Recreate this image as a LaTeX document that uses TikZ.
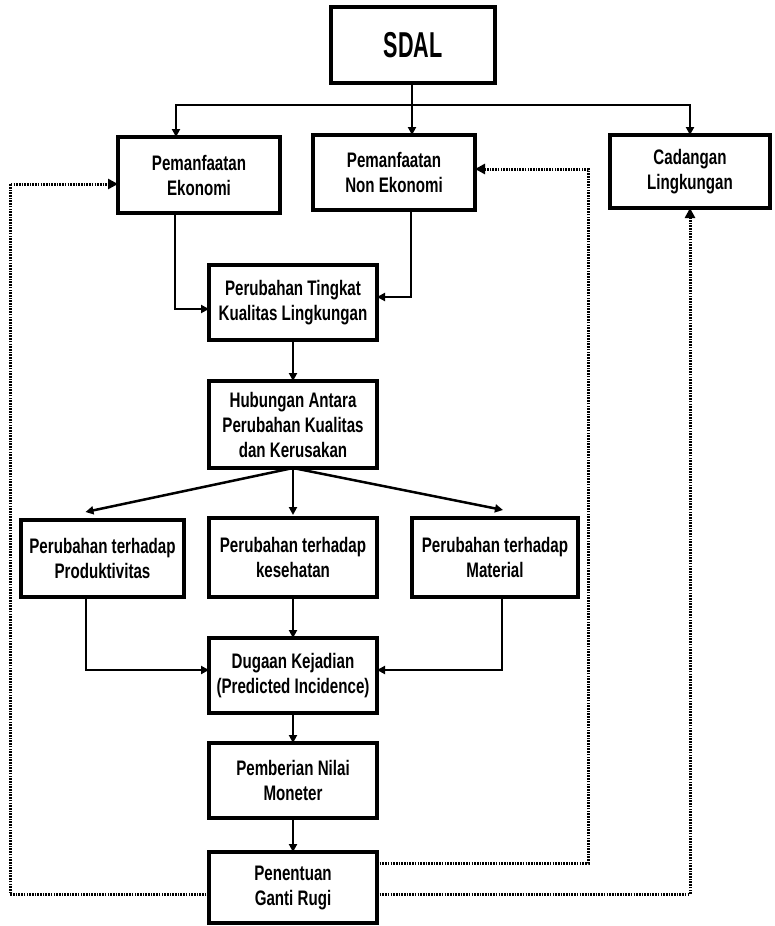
\documentclass[tikz,border=0pt]{standalone}
\usepackage{fontspec}
\setmainfont{Liberation Sans}[FakeStretch=0.72]
\newfontfamily\sdalfont{Liberation Sans}[FakeStretch=0.6]
\usetikzlibrary{arrows.meta}
\begin{document}
\begin{tikzpicture}[x=1pt,y=-1pt,
  box/.style={draw,line width=3.2pt,fill=white,inner sep=0pt,outer sep=0pt,align=center,
    font=\bfseries\fontsize{21}{25}\selectfont},
  arr/.style={line width=2.5pt,-{Triangle[length=8pt,width=8pt]}},
  plain/.style={line width=2.5pt},
  dot/.style={line width=3pt,dash pattern=on 1.6pt off 1.1pt},
  dotarr/.style={dot,-{Triangle[length=10pt,width=10pt]}}]
\useasboundingbox (0,0) rectangle (774,926);
% boxes
\node[box,minimum width=164pt,minimum height=76pt,font=\sdalfont\bfseries\fontsize{36}{40}\selectfont] (sdal) at (413,45) {SDAL};
\node[box,minimum width=162pt,minimum height=76pt] (eko) at (199,175) {Pemanfaatan\\Ekonomi};
\node[box,minimum width=162pt,minimum height=75pt] (noneko) at (394,172.5) {Pemanfaatan\\Non Ekonomi};
\node[box,minimum width=160pt,minimum height=73pt] (cad) at (690,171.5) {Cadangan\\Lingkungan};
\node[box,minimum width=168pt,minimum height=75pt] (ting) at (293,302.5) {Perubahan Tingkat\\Kualitas Lingkungan};
\node[box,minimum width=168pt,minimum height=87pt] (hub) at (293,424.5) {Hubungan Antara\\Perubahan Kualitas\\dan Kerusakan};
\node[box,minimum width=163pt,minimum height=77pt] (prod) at (102.5,558.5) {Perubahan terhadap\\Produktivitas};
\node[box,minimum width=168pt,minimum height=79pt] (kes) at (293,557.5) {Perubahan terhadap\\kesehatan};
\node[box,minimum width=166pt,minimum height=79pt] (mat) at (495,557.5) {Perubahan terhadap\\Material};
\node[box,minimum width=168pt,minimum height=75pt] (dug) at (293,675.5) {Dugaan Kejadian\\(Predicted Incidence)};
\node[box,minimum width=168pt,minimum height=75pt] (pem) at (293,780.5) {Pemberian Nilai\\Moneter};
\node[box,minimum width=168pt,minimum height=71pt] (pen) at (293,887.5) {Penentuan\\Ganti Rugi};
% top distribution
\coordinate (bus) at (412,105);
\draw[plain] (sdal.south -| bus) -- (bus);
\draw[arr] (bus) -- (bus |- noneko.north);
\draw[arr] (bus) -| ([xshift=-23pt]eko.north);
\draw[arr] (bus) -| (cad.north);
% into Tingkat
\draw[arr] ([xshift=-24pt]eko.south) |- ([yshift=-6.5pt]ting.west);
\draw[arr] ([xshift=17pt]noneko.south) |- ([yshift=5.5pt]ting.east);
\draw[arr] (ting) -- (hub);
% fan out
\draw[arr] (hub.south) -- ([xshift=-17pt,yshift=8pt]prod.north);
\draw[arr] (hub.south) -- ([yshift=3pt]kes.north);
\draw[arr] (hub.south) -- ([xshift=8pt,yshift=8pt]mat.north);
% into Dugaan
\draw[arr] ([xshift=-16.5pt]prod.south) |- ([yshift=5.5pt]dug.west);
\draw[arr] ([xshift=7pt]mat.south) |- ([yshift=5.5pt]dug.east);
\draw[arr] (kes) -- (dug);
\draw[arr] (dug) -- (pem);
\draw[arr] (pem) -- (pen);
% feedback dotted
\draw[dotarr] ([yshift=-6.5pt]pen.west) -- ++(-199,0) |- ([yshift=-9pt]eko.west);
\draw[dotarr] ([yshift=24.5pt]pen.east) -- ++(211,0) |- ([yshift=3.5pt]noneko.east);
\draw[dotarr] ([yshift=-6.5pt]pen.east) -| (cad.south);
\end{tikzpicture}
\end{document}
